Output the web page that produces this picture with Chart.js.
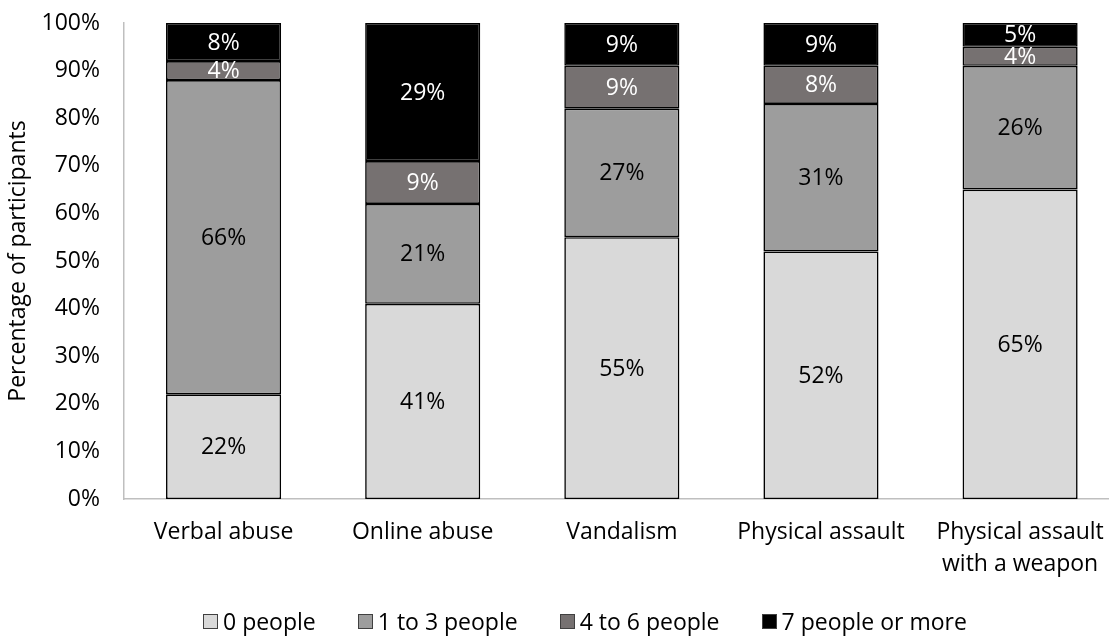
<!DOCTYPE html>
<html>
<head>
<meta charset="utf-8">
<script src="https://cdn.jsdelivr.net/npm/chart.js@4/dist/chart.umd.min.js"></script>
<style>
  html, body { margin: 0; padding: 0; background: #fff; }
  #wrap { position: relative; width: 1109px; height: 639px; overflow: hidden; }
  #chart { position: absolute; left: 0; top: 0; }
  #legend {
    position: absolute; left: 203px; top: 605px;
    display: flex; gap: 42px;
    font: 23px "Open Sans", sans-serif; color: #000; white-space: nowrap;
  }
  #legend span { display: flex; align-items: center; }
  #legend i {
    display: inline-block; width: 13px; height: 13px; margin-right: 5px;
    border: 1px solid #404040;
  }
</style>
</head>
<body>
<div id="wrap">
  <canvas id="chart" width="1122" height="639"></canvas>
  <div id="legend"></div>
</div>
<script>
const categories = ['Verbal abuse', 'Online abuse', 'Vandalism', 'Physical assault', ['Physical assault', 'with a weapon']];
const seriesNames = ['0 people', '1 to 3 people', '4 to 6 people', '7 people or more'];
const zeroPeople = [22, 41, 55, 52, 65];
const oneToThree = [66, 21, 27, 31, 26];
const fourToSix = [4, 9, 9, 8, 4];
const sevenPlus = [8, 29, 9, 9, 5];
const yTicks = [0, 10, 20, 30, 40, 50, 60, 70, 80, 90, 100];

const fills = ['#d9d9d9', '#9d9d9d', '#767171', '#000000'];
const labelColors = ['#000000', '#000000', '#ffffff', '#ffffff'];
const FONT = '"Open Sans", sans-serif';

// writes the percentage in the middle of every segment
const segmentLabels = {
    id: 'segmentLabels',
    afterDatasetsDraw(chart) {
        const ctx = chart.ctx;
        ctx.save();
        ctx.font = '23px ' + FONT;
        ctx.textAlign = 'center';
        ctx.textBaseline = 'middle';
        chart.data.datasets.forEach((ds, i) => {
            const meta = chart.getDatasetMeta(i);
            meta.data.forEach((bar, j) => {
                const mid = (bar.y + bar.base) / 2;
                ctx.fillStyle = labelColors[i];
                ctx.fillText(ds.data[j] + '%', bar.x, mid + 1);
            });
        });
        ctx.restore();
    }
};

const seriesData = [zeroPeople, oneToThree, fourToSix, sevenPlus];

new Chart(document.getElementById('chart'), {
    type: 'bar',
    data: {
        labels: categories,
        datasets: seriesData.map((d, i) => ({
            label: seriesNames[i],
            data: d,
            backgroundColor: fills[i],
            borderColor: '#000000',
            borderWidth: 1.6,
            borderSkipped: false,
            categoryPercentage: 0.578,
            barPercentage: 1.0
        }))
    },
    options: {
        responsive: false,
        animation: false,
        layout: { padding: { top: 23, right: 2, left: 5, bottom: 60 } },
        scales: {
            x: {
                stacked: true,
                grid: { display: false, drawTicks: false },
                border: { color: '#bfbfbf', width: 1.5 },
                ticks: {
                    color: '#000',
                    font: { family: FONT, size: 23, lineHeight: 1.38 },
                    padding: 18,
                    maxRotation: 0
                },
                afterFit(axis) { axis.height = 80; }
            },
            y: {
                stacked: true,
                min: 0,
                max: 100,
                afterBuildTicks(axis) { axis.ticks = yTicks.map(v => ({ value: v })); },
                grid: { display: false, drawTicks: false },
                border: { color: '#bfbfbf', width: 1.5 },
                ticks: {
                    color: '#000',
                    font: { family: FONT, size: 23 },
                    padding: 24,
                    callback: v => v + '%'
                },
                title: {
                    display: true,
                    text: 'Percentage of participants',
                    color: '#000',
                    font: { family: FONT, size: 23 },
                    padding: { top: 0, bottom: 10 }
                },
                afterFit(axis) {
                    axis.width = 119;
                    axis.paddingTop = 0;
                    axis.paddingBottom = 0;
                }
            }
        },
        plugins: {
            legend: { display: false },
            tooltip: { enabled: false }
        }
    },
    plugins: [segmentLabels]
});

// legend row under the chart
const legendBox = document.getElementById('legend');
seriesNames.forEach((name, i) => {
    const item = document.createElement('span');
    const sw = document.createElement('i');
    sw.style.background = fills[i];
    item.appendChild(sw);
    item.appendChild(document.createTextNode(name));
    legendBox.appendChild(item);
});
</script>
</body>
</html>
